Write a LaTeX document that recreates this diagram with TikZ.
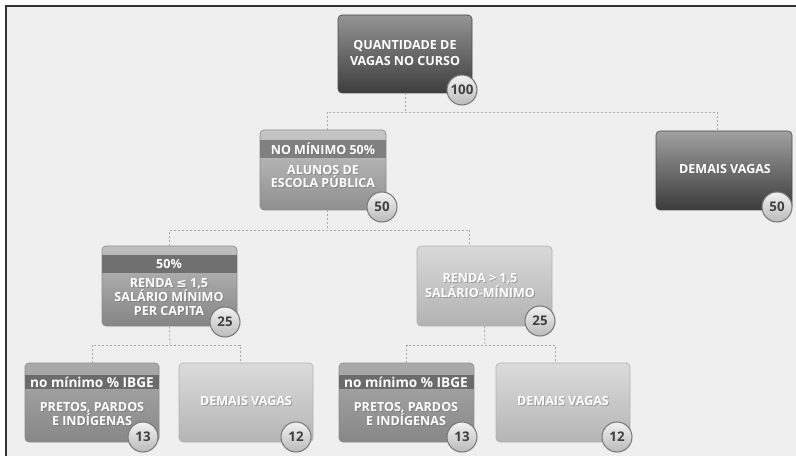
\documentclass[tikz,border=0pt]{standalone}
\usepackage{fontspec}
\setmainfont{Open Sans}
\newfontfamily\symf{DejaVu Sans}
\definecolor{bgc}{HTML}{EFEFEF}
\definecolor{framec}{HTML}{333333}
\definecolor{connc}{HTML}{A8A8A8}
\begin{document}
\begin{tikzpicture}[x=0.75pt,y=-0.75pt,
  box/.style={rectangle, rounded corners=3pt, draw=black!45, line width=0.5pt, inner sep=0pt},
  darkbox/.style={box, top color=black!42, bottom color=black!76, draw=black!70},
  midbox/.style={box, top color=black!24, bottom color=black!47},
  lightbox/.style={box, top color=black!14, bottom color=black!29, draw=black!30},
  band/.style={fill=black!52},
  conn/.style={draw=connc, line width=0.6pt, dash pattern=on 1.5pt off 1.5pt},
  badge/.style={circle, minimum size=22.5pt, inner sep=0pt, draw=black!52, line width=0.8pt,
    top color=black!5, bottom color=black!27, text=black!75,
    font=\bfseries\fontsize{10}{11}\selectfont},
  txt/.style={text=white, align=center, inner sep=0pt, font=\bfseries\fontsize{9.4}{#1}\selectfont},
  txt/.default=10.5,
  shd/.style={text=black!60, opacity=0.45, align=center, inner sep=0pt, font=\bfseries\fontsize{9.4}{#1}\selectfont},
  shd/.default=10.5
]
\useasboundingbox (0,0) rectangle (796,456);
\fill[white] (0,0) rectangle (796,456);
\fill[bgc] (6,6) rectangle (796,456);
\draw[framec, line width=1.3pt] (6,456) -- (6,6) -- (796,6);

% junction coordinates
\coordinate (j1) at (405,112);
\coordinate (j2) at (327,230);
\coordinate (j3) at (170,345);
\coordinate (j4) at (485,345);

% boxes
\node[darkbox, minimum width=100.5pt, minimum height=58.5pt] (top) at (405,54) {};
\node[midbox, top color=black!22, bottom color=black!44, minimum width=94.5pt, minimum height=60pt] (esc) at (323,170) {};
\node[darkbox, top color=black!37, bottom color=black!77, minimum width=102pt, minimum height=59.25pt] (dem1) at (724,170.5) {};
\node[midbox, top color=black!25, bottom color=black!48, minimum width=101.25pt, minimum height=60pt] (renda) at (169.5,286) {};
\node[lightbox, top color=black!15, bottom color=black!30, minimum width=101.25pt, minimum height=60pt] (renda2) at (484.5,286) {};
\node[midbox, top color=black!33, bottom color=black!47, minimum width=100.5pt, minimum height=59.25pt] (pa) at (92,402.5) {};
\node[lightbox, minimum width=100.5pt, minimum height=59.25pt] (da) at (246,402.5) {};
\node[midbox, top color=black!33, bottom color=black!47, minimum width=101.25pt, minimum height=59.25pt] (pb) at (406.5,402.5) {};
\node[lightbox, minimum width=100.5pt, minimum height=59.25pt] (db) at (563,402.5) {};

% connectors
\draw[conn] (top.south) -- (j1);
\draw[conn] ([xshift=3pt]esc.north) |- (j1) -| ([xshift=-5.25pt]dem1.north);
\draw[conn] ([xshift=3pt]esc.south) -- (j2);
\draw[conn] (renda.north) |- (j2) -| ([xshift=-11pt]renda2.north);
\draw[conn] (renda.south) -- (j3);
\draw[conn] (pa.north) |- (j3) -| ([xshift=-4.5pt]da.north);
\draw[conn] (renda2.south) -- (j4);
\draw[conn] (pb.north) |- (j4) -| ([xshift=-6pt]db.north);

% header bands
\fill[band, fill=black!50] (260.4,140) rectangle (385.6,158);
\fill[band, fill=black!56] (102.4,255) rectangle (236.6,273);
\fill[band, fill=black!58] (25.4,375) rectangle (158.6,389);
\fill[band, fill=black!58] (339.4,375) rectangle (473.6,389);

% texts (shadow + text)
\newcommand{\stx}[4][10.5]{%
  \node[shd=#1] at (#2+0.9,#3+0.9) {#4};
  \node[txt=#1] at (#2,#3) {#4};}
\newcommand{\lowhd}{\fontsize{10.2}{11}\selectfont no mínimo \% IBGE}
\stx[12]{405}{53}{QUANTIDADE DE\\VAGAS NO CURSO}
\stx{323}{149}{NO MÍNIMO 50\%}
\stx[10.2]{323}{176.5}{ALUNOS DE\\ESCOLA PÚBLICA}
\stx{725}{169}{DEMAIS VAGAS}
\stx{169}{264}{50\%}
\stx[10.5]{169}{297}{RENDA {\symf\bfseries ≤} 1,5\\SALÁRIO MÍNIMO\\PER CAPITA}
\stx[11.2]{480}{285.5}{RENDA > 1,5\\SALÁRIO-MÍNIMO}
\stx{92}{382}{\lowhd}
\stx[10.5]{92}{414}{PRETOS, PARDOS\\E INDÍGENAS}
\stx{246}{401}{DEMAIS VAGAS}
\stx{406}{382}{\lowhd}
\stx[10.5]{406}{414}{PRETOS, PARDOS\\E INDÍGENAS}
\stx{563}{401}{DEMAIS VAGAS}

% badges
\node[badge] (b1) at (462,90) {100};
\node[badge] (b2) at (382,207) {50};
\node[badge] (b3) at (777,207) {50};
\node[badge] (b4) at (225,322) {25};
\node[badge] (b5) at (540,321) {25};
\node[badge] (b6) at (143,437) {13};
\node[badge] (b7) at (296,437) {12};
\node[badge] (b8) at (462,437) {13};
\node[badge] (b9) at (617,437) {12};
\end{tikzpicture}
\end{document}
